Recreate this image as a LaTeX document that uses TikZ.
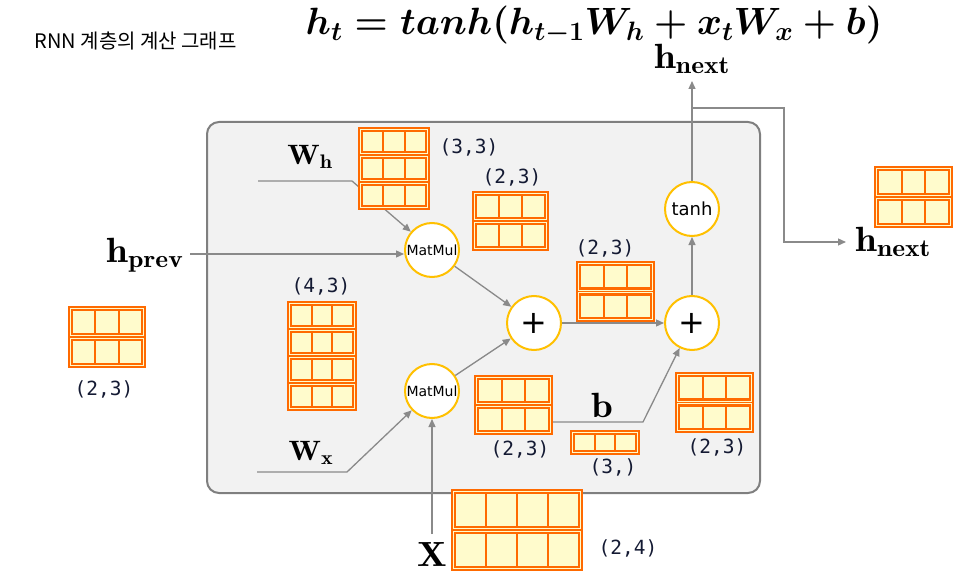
\RequirePackage{fix-cm}
\documentclass[tikz,border=0pt]{standalone}
\usepackage{amsmath}
\usepackage{fontspec}
\usepackage{tikz}
\usetikzlibrary{arrows.meta, positioning, calc}
\usepackage{xcolor}
\newfontfamily\kofont{Noto Sans CJK KR}
\newfontfamily\dimfont{DejaVu Sans Mono}
\newfontfamily\opfont{DejaVu Sans}
\definecolor{tensorline}{HTML}{FF6A00}
\definecolor{tensorfill}{HTML}{FFFBCC}
\definecolor{opring}{HTML}{FFC000}
\definecolor{flowgray}{HTML}{8A8A8A}
\definecolor{panelfill}{HTML}{F2F2F2}
\definecolor{panelline}{HTML}{7F7F7F}
\definecolor{dimtext}{HTML}{141A33}

\tikzset{
    op/.style={circle, draw=opring, line width=2pt, fill=white, minimum size=54pt, inner sep=0pt},
    flow/.style={draw=flowgray, line width=1.3pt, -{Triangle[length=8pt, width=7pt]}},
    dim/.style={text=dimtext, font=\dimfont\fontsize{19.5}{21}\selectfont},
    var/.style={font=\fontsize{35}{37}\selectfont}
}

% wide bold variable name
\newcommand{\wide}[1]{\scalebox{1.12}[1]{#1}}

% tensor: name, left, top, width, height, rows, cols
\newcommand{\tensorbox}[7]{%
    \pgfmathsetmacro\rowh{#5/#6}
    \pgfmathsetmacro\colw{(#4-6)/#7}
    \foreach \r in {1,...,#6}{
        \draw[tensorline, line width=1.2pt, fill=tensorfill] (#2, {#3+(\r-1)*\rowh}) rectangle ++(#4, \rowh);
        \draw[tensorline, line width=2.2pt] ({#2+3}, {#3+(\r-1)*\rowh+3}) rectangle ++({#4-6}, {\rowh-6});
        \foreach \c in {2,...,#7}
            \draw[tensorline, line width=2.2pt] ({#2+3+(\c-1)*\colw}, {#3+(\r-1)*\rowh+3}) -- ++(0, {\rowh-6});
    }
    \coordinate (#1) at ({#2+#4/2}, {#3+#5/2});
}

\begin{document}
\begin{tikzpicture}[x=1pt, y=-1pt]
    \useasboundingbox (0,0) rectangle (960,577);

    % title and formula
    \node[anchor=west, font=\kofont\fontsize{20}{22}\selectfont] (title) at (31,41) {RNN 계층의 계산 그래프};
    \node[anchor=base, font=\fontsize{38}{40}\selectfont] (formula) at (594,35) {$\boldsymbol{h_t = tanh(h_{t-1}W_h + x_tW_x + b)}$};

    % layer panel
    \draw[panelline, fill=panelfill, line width=2pt, rounded corners=12pt] (207,122) rectangle (760,493);

    % wires behind everything
    \coordinate (whstart) at (258,181);
    \coordinate (whbend) at (352,181);
    \coordinate (hpin) at (190,254);
    \coordinate (wxstart) at (257,472);
    \coordinate (wxbend) at (347,472);
    \coordinate (xin) at (432,534);
    \coordinate (bstart) at (552,422);
    \coordinate (bbend) at (643,422);
    \coordinate (hout) at (692,81);
    \coordinate (split) at (692,108);
    \coordinate (turn1) at (784,108);
    \coordinate (turn2) at (784,242);
    \coordinate (hnextin) at (846,242);

    \node[op] (mmh) at (432,250) {\opfont\fontsize{14}{14}\selectfont MatMul};
    \node[op] (mmx) at (432,391) {\opfont\fontsize{14}{14}\selectfont MatMul};
    \node[op] (plusa) at (534,323) {\opfont\fontsize{32}{32}\selectfont +};
    \node[op] (plusb) at (692,323) {\opfont\fontsize{32}{32}\selectfont +};
    \node[op] (tanh) at (692,209) {\opfont\fontsize{18}{18}\selectfont tanh};

    \draw[flow] (whstart) -- (whbend) -- (mmh);
    \draw[flow] (hpin) -- (hpin -| mmh.west);
    \draw[flow] (wxstart) -- (wxbend) -- (mmx);
    \draw[flow] (xin) -- (mmx);
    \draw[flow] (mmh) -- (plusa);
    \draw[flow] (mmx) -- (plusa);
    \draw[flow] (plusa) -- (plusb);
    \draw[flow] (bstart) -- (bbend) -- (plusb);
    \draw[flow] (plusb) -- (tanh);
    \draw[flow] (tanh) -- (hout);
    \draw[flow] (split) -- (turn1) -- (turn2) -- (hnextin);

    % tensors
    \tensorbox{twh}{359}{128}{70}{81}{3}{3}
    \tensorbox{tmmh}{473}{192}{75}{58}{2}{3}
    \tensorbox{twx}{288}{302}{68}{108}{4}{3}
    \tensorbox{tsum}{577}{262}{77}{59}{2}{3}
    \tensorbox{thprev}{69}{307}{76}{60}{2}{3}
    \tensorbox{tmmx}{475}{376}{77}{58}{2}{3}
    \tensorbox{tb}{571}{431}{68}{23}{1}{3}
    \tensorbox{tout}{676}{373}{77}{59}{2}{3}
    \tensorbox{tx}{452}{490}{130}{80}{2}{4}
    \tensorbox{thnext}{875}{167}{77}{60}{2}{3}

    % shapes
    \node[dim] (dwh) at (469,147) {(3,3)};
    \node[dim] (dmmh) at (512,177) {(2,3)};
    \node[dim] (dwx) at (321,286) {(4,3)};
    \node[dim] (dsum) at (605,248) {(2,3)};
    \node[dim] (dhprev) at (104,389) {(2,3)};
    \node[dim] (dmmx) at (520,449) {(2,3)};
    \node[dim] (db) at (613,467) {(3,)};
    \node[dim] (dout) at (717,447) {(2,3)};
    \node[dim] (dx) at (628,548) {(2,4)};

    % variable names
    \node[var, font=\fontsize{28}{30}\selectfont] (lwh) at (310,157) {\wide{$\mathbf{W_h}$}};
    \node[var, font=\fontsize{28}{30}\selectfont] (lwx) at (311,453) {\wide{$\mathbf{W_x}$}};
    \node[var] (lhprev) at (145,255) {\wide{$\mathbf{h_{prev}}$}};
    \node[var] (lhtop) at (692,59) {\wide{$\mathbf{h_{next}}$}};
    \node[var] (lhright) at (893,242) {\wide{$\mathbf{h_{next}}$}};
    \node[var] (lb) at (602,405) {\wide{$\mathbf{b}$}};
    \node[var] (lx) at (432,554) {\wide{$\mathbf{X}$}};
\end{tikzpicture}
\end{document}
